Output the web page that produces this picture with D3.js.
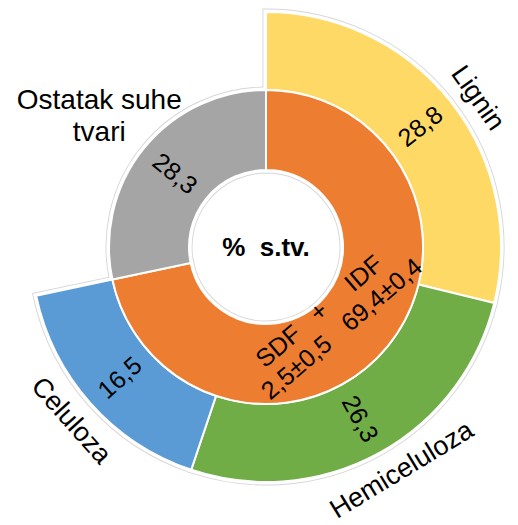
<!DOCTYPE html>
<html>
<head>
<meta charset="utf-8">
<script src="https://cdn.jsdelivr.net/npm/d3@7"></script>
<style>
body { margin: 0; background: #fff; }
text { font-family: "Liberation Sans", Arial, sans-serif; fill: #000; }
</style>
</head>
<body>
<svg width="518" height="525"></svg>
<script>
var categories = ["Lignin", "Hemiceluloza", "Celuloza", "Ostatak suhe tvari"];
var values = [28.8, 26.3, 16.5, 28.3];
var valueLabels = ["28,8", "26,3", "16,5", "28,3"];
var fiberNames = ["SDF", "IDF"];
var fiberLabels = ["2,5±0,5", "69,4±0,4"];
var colors = ["#FFD966", "#70AD47", "#5B9BD5", "#A5A5A5"];
var fiberColor = "#ED7D31";

var svg = d3.select("svg"),
    cx = 266, cy = 247,
    r0 = 77, r1 = 157, r2 = 235;

var g = svg.append("g").attr("transform", "translate(" + cx + "," + cy + ")");

var pie = d3.pie().sort(null).value(function (d) { return d; })(values);
var arc = d3.arc();

// outer ring: first three parts, inner ring: fibre (spans them) + rest
var segs = pie.slice(0, 3).map(function (p, i) {
    return { startAngle: p.startAngle, endAngle: p.endAngle, innerRadius: r1, outerRadius: r2, fill: colors[i] };
});
segs.push({ startAngle: pie[0].startAngle, endAngle: pie[2].endAngle, innerRadius: r0, outerRadius: r1, fill: fiberColor });
segs.push({ startAngle: pie[3].startAngle, endAngle: pie[3].endAngle, innerRadius: r0, outerRadius: r1, fill: colors[3] });

// faint outline a few px outside every piece
g.append("g").selectAll("path").data(segs).enter().append("path")
    .attr("d", arc).attr("fill", "none").attr("stroke", "#d6d6d6").attr("stroke-width", 7);
g.append("g").selectAll("path").data(segs).enter().append("path")
    .attr("d", arc).attr("fill", "none").attr("stroke", "#fff").attr("stroke-width", 5.2);
g.append("g").selectAll("path").data(segs).enter().append("path")
    .attr("d", arc).attr("fill", function (d) { return d.fill; })
    .attr("stroke", "#fff").attr("stroke-width", 2);

function polar(a, r) { return [r * Math.sin(a), -r * Math.cos(a)]; }
function readable(deg) {
    while (deg > 180) deg -= 360;
    while (deg <= -180) deg += 360;
    if (deg > 90) deg -= 180;
    if (deg < -90) deg += 180;
    return deg;
}
function mid(p) { return (p.startAngle + p.endAngle) / 2; }

// value labels (radial)
pie.forEach(function (p, i) {
    var a = mid(p), r = i < 3 ? (r1 + r2) / 2 : (r0 + r1) / 2;
    var pt = polar(a, r);
    g.append("text")
        .attr("transform", "translate(" + pt[0] + "," + pt[1] + ") rotate(" + readable(a * 180 / Math.PI - 90) + ")")
        .attr("text-anchor", "middle").attr("dy", "0.35em")
        .attr("font-size", "25px")
        .text(valueLabels[i]);
});

// category labels (tangential, outside), nudged a little like the original
var nudge = [3, -2.5, 0];
pie.slice(0, 3).forEach(function (p, i) {
    var a = mid(p) + nudge[i] * Math.PI / 180, pt = polar(a, r2 + 25);
    g.append("text")
        .attr("transform", "translate(" + pt[0] + "," + pt[1] + ") rotate(" + readable(a * 180 / Math.PI) + ")")
        .attr("text-anchor", "middle").attr("dy", "0.35em")
        .attr("font-size", "27px")
        .text(categories[i]);
});

// rest label, horizontal, two lines
var restPt = polar(mid(pie[3]), 212);
var restWords = categories[3].split(" ");
var rest = g.append("text")
    .attr("text-anchor", "middle").attr("font-size", "28px")
    .attr("transform", "translate(" + (restPt[0] - 2) + "," + restPt[1] + ")");
rest.append("tspan").attr("x", 0).attr("dy", "-0.15em").text(restWords.slice(0, 2).join(" "));
rest.append("tspan").attr("x", 0).attr("dy", "1.12em").text(restWords[2]);

// fibre label in inner ring
var fa = 139.5 * Math.PI / 180, fpt = polar(fa, 97);
var fg = g.append("g")
    .attr("transform", "translate(" + fpt[0] + "," + fpt[1] + ") rotate(" + readable(fa * 180 / Math.PI) + ")")
    .attr("font-size", "25px").attr("text-anchor", "middle");
[-55, 57].forEach(function (u, i) {
    fg.append("text").attr("x", u).attr("y", -14).attr("dy", "0.35em").text(fiberNames[i]);
    fg.append("text").attr("x", u).attr("y", 14).attr("dy", "0.35em").text(fiberLabels[i]);
});
fg.append("text").attr("x", -2).attr("y", -14).attr("dy", "0.35em").text("+");

// centre
g.append("text").attr("text-anchor", "middle").attr("dy", "0.35em")
    .attr("font-size", "26px").attr("font-weight", "bold")
    .attr("xml:space", "preserve")
    .text("%  s.tv.");
</script>
</body>
</html>
